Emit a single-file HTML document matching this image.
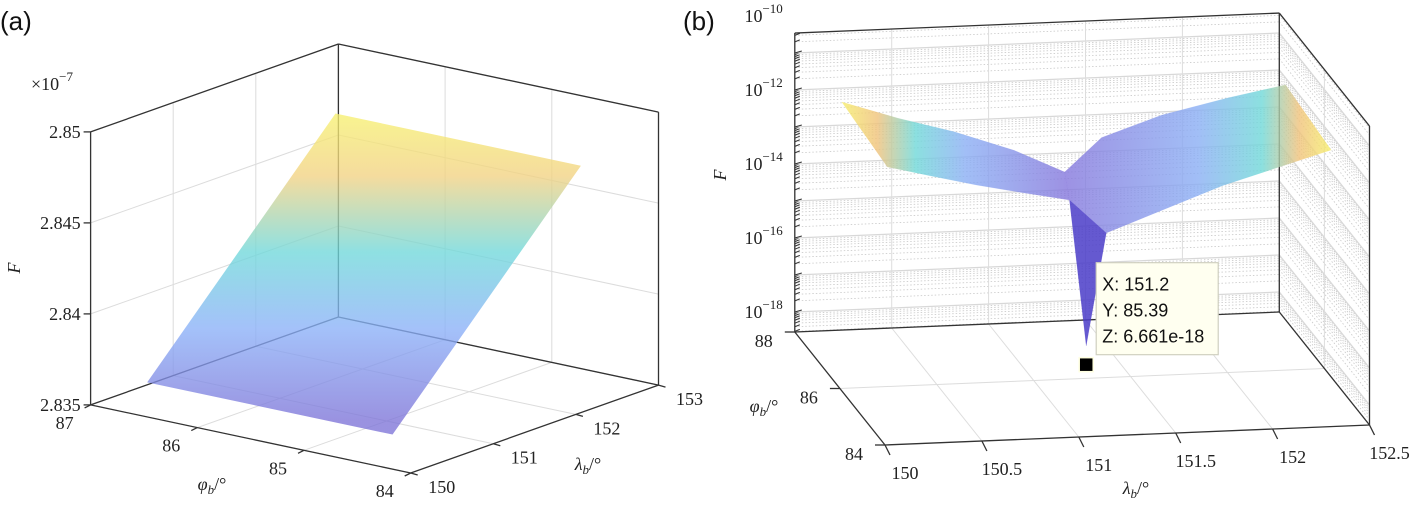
<!DOCTYPE html>
<html><head><meta charset="utf-8"><style>
html,body{margin:0;padding:0;background:#fff;}
svg{display:block;}
svg text.tk{font-family:"Liberation Serif","DejaVu Serif",serif !important;font-size:18px;fill:#222;}
.pl{font-family:"Liberation Sans",sans-serif;font-size:26px;fill:#111;}
.dt{font-family:"Liberation Sans",sans-serif;font-size:18px;fill:#111;}
</style></head><body>
<svg id="fig" width="1425" height="505" viewBox="0 0 1425 505" xmlns="http://www.w3.org/2000/svg">
<defs>
<linearGradient id="gA" gradientUnits="userSpaceOnUse" x1="0" y1="420" x2="0" y2="115">
<stop offset="0" stop-color="#7d74d8"/><stop offset="0.3" stop-color="#8ab0f8"/><stop offset="0.55" stop-color="#6fd8da"/><stop offset="0.8" stop-color="#f2d282"/><stop offset="1" stop-color="#f6f070"/></linearGradient>
<linearGradient id="gL" gradientUnits="userSpaceOnUse" x1="841" y1="0" x2="1067" y2="0">
<stop offset="0" stop-color="#f6ee6a"/><stop offset="0.16" stop-color="#f0c27a"/><stop offset="0.33" stop-color="#6fd8d8"/><stop offset="0.55" stop-color="#8aaef4"/><stop offset="1" stop-color="#8476dc"/></linearGradient>
<linearGradient id="gR" gradientUnits="userSpaceOnUse" x1="1065" y1="0" x2="1331" y2="0">
<stop offset="0" stop-color="#8476dc"/><stop offset="0.5" stop-color="#8aaef4"/><stop offset="0.74" stop-color="#6fd8d8"/><stop offset="0.88" stop-color="#f0c27a"/><stop offset="1" stop-color="#f6ee6a"/></linearGradient>
</defs>
<text class="pl" x="0" y="30">(a)</text>
<text class="pl" x="683" y="30">(b)</text>
<g id="pa"></g>
<g id="pb"></g>
</svg>
<script>
// ---------- Panel (a) data ----------
const aLamTicks=[150,151,152,153];
const aPhiTicks=[84,85,86,87];
const aZTicks=[2.835,2.84,2.845,2.85];
const aZLabels=["2.835","2.84","2.845","2.85"];
const aSurfLam=[150,152.28];
const aSurfPhi=[84.17,86.47];
const aSurfF=[2.8369,2.8480];
// ---------- Panel (b) data ----------
const bLamTicks=[150,150.5,151,151.5,152,152.5];
const bLamLabels=["150","150.5","151","151.5","152","152.5"];
const bPhiTicks=[84,86,88];
const bZTicks=[-18,-16,-14,-12,-10];
const bLeftWingLam=[150.01,150.3,150.59,150.9,151.16,151.01,150.75,150.53,150.3,150.07];
const bLeftWingPhi=[86,86,86,86,86,84.5,84.5,84.5,84.5,84.5];
const bLeftWingLogF=[-10.80,-11.30,-11.73,-12.30,-12.94,-12.52,-12.25,-12.01,-11.72,-11.42];
const bRightWingLam=[151.16,151.35,151.66,152.0,152.3,152.36,151.8,151.2,151.01];
const bRightWingPhi=[86,86,86,86,86,84.5,84.5,84.5,84.5];
const bRightWingLogF=[-12.94,-12.05,-11.51,-11.12,-10.83,-11.46,-12.3,-13.45,-12.52];
const bSpikeLam=[151.01,151.2,151.2];
const bSpikePhi=[84.5,84.5,85.39];
const bSpikeLogF=[-12.52,-13.45,-17.18];
const tipX=151.2, tipY=85.39, tipZ=6.661e-18;

const NS="http://www.w3.org/2000/svg";
function mk(parent,tag,attrs,text){const e=document.createElementNS(NS,tag);for(const k in attrs)e.setAttribute(k,attrs[k]);if(attrs.class==='tk')e.setAttribute('font-family','Liberation Serif, serif');if(text!==undefined)e.textContent=text;parent.appendChild(e);return e;}
function line(g,p,q,st,w,dash){return mk(g,'line',{x1:p[0],y1:p[1],x2:q[0],y2:q[1],stroke:st,'stroke-width':w||1,'stroke-dasharray':dash||'none'});}

const aO=[410.7,473], aLx=82.6, aLy=-29.3, aPx=-106.7, aPy=-22.7, aZs=18200, aZ0=2.835;
function PA(l,p,z){return [aO[0]+(l-150)*aLx+(p-84)*aPx, aO[1]+(l-150)*aLy+(p-84)*aPy-(z-aZ0)*aZs];}
const ga=document.getElementById('pa');
const zA0=2.835,zA1=2.85;
aZTicks.forEach(z=>{let e=line(ga,PA(150,87,z),PA(153,87,z),'#dcdcdc',1);
 e=line(ga,PA(153,87,z),PA(153,84,z),'#dcdcdc',1);});
aLamTicks.forEach(l=>{let e=line(ga,PA(l,87,zA0),PA(l,87,zA1),'#dcdcdc',1);
 e=line(ga,PA(l,84,zA0),PA(l,87,zA0),'#dcdcdc',1);});
aPhiTicks.forEach(p=>{let e=line(ga,PA(153,p,zA0),PA(153,p,zA1),'#dcdcdc',1);
 e=line(ga,PA(150,p,zA0),PA(153,p,zA0),'#dcdcdc',1);});
[[PA(150,87,zA0),PA(153,87,zA0)],[PA(153,87,zA0),PA(153,84,zA0)],[PA(153,87,zA0),PA(153,87,zA1)],[PA(150,87,zA1),PA(153,87,zA1)],[PA(153,87,zA1),PA(153,84,zA1)],[PA(153,84,zA0),PA(153,84,zA1)]].forEach(s=>{const e=line(ga,s[0],s[1],'#333',1.3);});
{const pts=[PA(aSurfLam[0],aSurfPhi[0],aSurfF[0]),PA(aSurfLam[0],aSurfPhi[1],aSurfF[0]),PA(aSurfLam[1],aSurfPhi[1],aSurfF[1]),PA(aSurfLam[1],aSurfPhi[0],aSurfF[1])];
 const e=mk(ga,'polygon',{points:pts.map(p=>p.join(',')).join(' '),fill:'url(#gA)','fill-opacity':0.78});
 }
[[PA(150,87,zA0),PA(150,87,zA1)],[PA(150,87,zA0),PA(150,84,zA0)],[PA(150,84,zA0),PA(153,84,zA0)]].forEach(s=>{const e=line(ga,s[0],s[1],'#333',1.3);});
aZTicks.forEach((z,i)=>{const p=PA(150,87,z);line(ga,p,[p[0]-7,p[1]],'#333',1.3);
 const t=mk(ga,'text',{class:'tk',x:p[0]-10,y:p[1]+6,'text-anchor':'end'},aZLabels[i]);});
aPhiTicks.forEach(ph=>{const p=PA(150,ph,zA0);line(ga,p,[p[0]-6,p[1]+3],'#333',1.3);
 const t=mk(ga,'text',{class:'tk',x:p[0]-26,y:p[1]+24,'text-anchor':'middle'},String(ph));});
aLamTicks.forEach(l=>{const p=PA(l,84,zA0);line(ga,p,[p[0]+7,p[1]+2],'#333',1.3);
 const t=mk(ga,'text',{class:'tk',x:p[0]+31,y:p[1]+20,'text-anchor':'middle'},String(l));});
</script>
<script>
(function(){
const ga=document.getElementById('pa');
let t=mk(ga,'text',{class:'tk',x:31,y:90,'font-size':'17'});t.innerHTML='×10<tspan dy="-9" font-size="13">−7</tspan>';

t=mk(ga,'text',{class:'tk',x:20,y:268,'font-style':'italic',transform:'rotate(-90 20 268)','text-anchor':'middle'},'F');

t=mk(ga,'text',{class:'tk',x:212,y:490,'text-anchor':'middle','font-style':'italic'});t.innerHTML='φ<tspan dy="4" font-size="13">b</tspan><tspan dy="-4" font-style="normal">/°</tspan>';

t=mk(ga,'text',{class:'tk',x:588,y:470,'text-anchor':'middle','font-style':'italic'});t.innerHTML='λ<tspan dy="4" font-size="13">b</tspan><tspan dy="-4" font-style="normal">/°</tspan>';


const gb=document.getElementById('pb');
const bO=[885,445], lmin=-18.54, lmax=-10.46, dec=37;
function PB(l,p,lg){return [bO[0]+(l-150)*193.8+(p-84)*-22.55, bO[1]+(l-150)*-8+(p-84)*-28.25-(lg-lmin)*dec];}
for(let d=-19;d<=-11;d++){for(let m=1;m<10;m++){const lg=d+Math.log10(m);if(lg<lmin||lg>lmax)continue;
 const major=(m===1);
 let e=line(gb,PB(150,88,lg),PB(152.5,88,lg),major?'#d8d8d8':'#c8c8c8',major?1.3:0.8,major?'none':'1.5,2');
 
 e=line(gb,PB(152.5,88,lg),PB(152.5,84,lg),major?'#d8d8d8':'#c8c8c8',major?1.3:0.8,major?'none':'1.5,2');
 
 const p=PB(150,88,lg);e=line(gb,p,[p[0]+(major?7:5),p[1]-2],'#333',1);}}
bLamTicks.forEach(l=>{let e=line(gb,PB(l,88,lmin),PB(l,88,lmax),'#ddd',1);
 e=line(gb,PB(l,84,lmin),PB(l,88,lmin),'#ddd',1);});
bPhiTicks.forEach(p=>{let e=line(gb,PB(150,p,lmin),PB(152.5,p,lmin),'#ddd',1);
 e=line(gb,PB(152.5,p,lmin),PB(152.5,p,lmax),'#ddd',1);});
[[PB(150,88,lmin),PB(152.5,88,lmin)],[PB(152.5,88,lmin),PB(152.5,84,lmin)],[PB(150,88,lmax),PB(152.5,88,lmax)],[PB(152.5,88,lmax),PB(152.5,84,lmax)],[PB(152.5,88,lmin),PB(152.5,88,lmax)],[PB(152.5,84,lmin),PB(152.5,84,lmax)]].forEach(s=>{const e=line(gb,s[0],s[1],'#333',1.3);});
function poly(L,P,G,fill,op){const pts=L.map((l,i)=>PB(l,P[i],G[i]));return mk(gb,'polygon',{points:pts.map(p=>p.join(',')).join(' '),fill:fill,'fill-opacity':op,stroke:fill,'stroke-opacity':0.3,'stroke-width':0.5});}
let e=poly(bLeftWingLam,bLeftWingPhi,bLeftWingLogF,'url(#gL)',0.8);
e=poly(bRightWingLam,bRightWingPhi,bRightWingLogF,'url(#gR)',0.8);
e=poly(bSpikeLam,bSpikePhi,bSpikeLogF,'#4a3cc8',0.85);
[[PB(150,88,lmin),PB(150,88,lmax)],[PB(150,88,lmin),PB(150,84,lmin)],[PB(150,84,lmin),PB(152.5,84,lmin)]].forEach(s=>{const e=line(gb,s[0],s[1],'#333',1.3);});
bZTicks.forEach(z=>{const p=PB(150,88,z);const t=mk(gb,'text',{class:'tk',x:p[0]-12,y:p[1]+6,'text-anchor':'end'});t.innerHTML='10<tspan dy="-9" font-size="13">−'+(-z)+'</tspan>';
 });
bPhiTicks.forEach(ph=>{const p=PB(150,ph,lmin);line(gb,p,[p[0]-10,p[1]],'#333',1.3);
 const t=mk(gb,'text',{class:'tk',x:p[0]-31,y:p[1]+15,'text-anchor':'middle'},String(ph));});
bLamTicks.forEach((l,i)=>{const p=PB(l,84,lmin);line(gb,p,[p[0]+5,p[1]+10],'#333',1.3);
 const t=mk(gb,'text',{class:'tk',x:p[0]+20,y:p[1]+34,'text-anchor':'middle'},bLamLabels[i]);});
t=mk(gb,'text',{class:'tk',x:726,y:175,'font-style':'italic',transform:'rotate(-90 726 175)','text-anchor':'middle'},'F');

t=mk(gb,'text',{class:'tk',x:764,y:412,'text-anchor':'middle','font-style':'italic'});t.innerHTML='φ<tspan dy="4" font-size="13">b</tspan><tspan dy="-4" font-style="normal">/°</tspan>';

t=mk(gb,'text',{class:'tk',x:1136,y:494,'text-anchor':'middle','font-style':'italic'});t.innerHTML='λ<tspan dy="4" font-size="13">b</tspan><tspan dy="-4" font-style="normal">/°</tspan>';

const tp=PB(tipX,tipY,Math.log10(tipZ));
e=mk(gb,'rect',{x:tp[0]-7,y:tp[1]+12,width:14,height:14,fill:'#000',stroke:'#ffffe0','stroke-width':1.5});

const bx=tp[0]+10, by=tp[1]-83;
e=mk(gb,'rect',{x:bx,y:by,width:122,height:92,fill:'#fffff0',stroke:'#d0d0c0','stroke-width':1.2});

['X: 151.2','Y: 85.39','Z: 6.661e-18'].forEach((s,i)=>{const t=mk(gb,'text',{class:'dt',x:bx+6,y:by+28+i*26},s);});
})();
</script>
</body></html>
